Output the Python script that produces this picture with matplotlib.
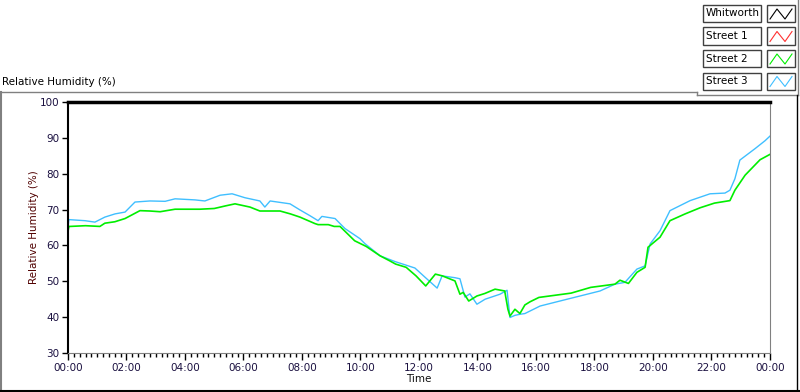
import numpy as np
import matplotlib
matplotlib.use("Agg")
import matplotlib.pyplot as plt
from matplotlib.lines import Line2D
from matplotlib.patches import Rectangle

# hours since midnight, relative humidity (%)
street2_h = [0.00, 0.03, 0.07, 0.6, 1.09, 1.26, 1.6, 1.95, 2.46, 2.8, 3.15, 3.66, 4.51, 5.0,
             5.37, 5.71, 6.22, 6.56, 7.25, 7.6, 7.93, 8.44, 8.55, 8.9, 9.1, 9.3, 9.45, 9.8,
             10.2, 10.67, 11.0, 11.2, 11.56, 11.9, 12.23, 12.56, 12.8, 13.23, 13.4, 13.51,
             13.7, 13.98, 14.25, 14.6, 14.93, 15.04, 15.11, 15.28, 15.45, 15.62, 15.8, 16.1,
             17.2, 17.87, 18.7, 18.87, 19.16, 19.45, 19.73, 19.83, 20.24, 20.58, 21.1, 21.61,
             22.1, 22.63, 22.8, 23.15, 23.66, 24.0]
street2 = [63.9, 65.3, 65.3, 65.5, 65.3, 66.2, 66.6, 67.5, 69.7, 69.6, 69.4, 70.1, 70.1, 70.3,
           71.0, 71.6, 70.7, 69.6, 69.6, 68.8, 67.9, 66.1, 65.8, 65.8, 65.3, 65.3, 64.1, 61.3,
           59.7, 57.1, 55.7, 54.8, 53.9, 51.5, 48.7, 52.0, 51.5, 50.1, 46.4, 46.9, 44.5, 45.9,
           46.6, 47.8, 47.3, 42.2, 40.3, 42.2, 41.0, 43.4, 44.3, 45.5, 46.7, 48.3, 49.2, 50.3,
           49.4, 52.5, 53.9, 59.5, 62.3, 66.9, 68.8, 70.5, 71.8, 72.5, 75.4, 79.6, 83.9, 85.4]

street3_h = [0.00, 0.03, 0.58, 0.92, 1.26, 1.61, 1.95, 2.29, 2.80, 3.32, 3.66, 4.34, 4.68,
             5.20, 5.61, 6.05, 6.56, 6.73, 6.91, 7.59, 7.93, 8.27, 8.55, 8.68, 9.13, 9.47,
             9.98, 10.15, 10.67, 11.18, 11.52, 11.86, 12.21, 12.62, 12.79, 13.23, 13.40,
             13.57, 13.74, 13.98, 14.26, 14.77, 15.01, 15.11, 15.28, 15.45, 15.62, 16.14,
             16.82, 18.19, 18.70, 19.04, 19.45, 19.73, 19.90, 20.24, 20.58, 21.27, 21.95,
             22.46, 22.63, 22.80, 22.97, 23.49, 23.83, 24.00]
street3 = [65.0, 67.2, 66.9, 66.5, 67.9, 68.8, 69.3, 72.1, 72.4, 72.3, 73.0, 72.7, 72.4,
           74.0, 74.4, 73.3, 72.4, 70.7, 72.4, 71.6, 69.9, 68.3, 66.9, 68.1, 67.5, 64.7,
           61.9, 60.5, 57.1, 55.5, 54.6, 53.7, 51.1, 48.1, 51.5, 51.0, 50.7,
           45.6, 46.5, 43.6, 45.0, 46.4, 47.5, 39.9, 40.5, 40.8, 41.0, 43.1,
           44.5, 47.3, 49.2, 49.7, 53.4, 54.3, 60.4, 64.1, 69.7, 72.5, 74.4,
           74.6, 75.4, 78.6, 83.8, 87.0, 89.2, 90.5]

whitworth_h = [0.0, 24.0]
whitworth = [100.0, 100.0]
street1_h = []
street1 = []

legend_names = ["Whitworth", "Street 1", "Street 2", "Street 3"]
legend_colors = ["#000000", "#ff3030", "#00ee00", "#3fbfff"]

plt.rcParams["font.family"] = ["DejaVu Sans"]
plt.rcParams["font.size"] = 7.5

fig = plt.figure(figsize=(8, 3.92), dpi=100)
ax = fig.add_axes([68/800, 1 - 353/392, (770-68)/800, (353-102)/392])

ax.plot(street1_h, street1, color=legend_colors[1], lw=1)
ax.plot(street3_h, street3, color=legend_colors[3], lw=1)
ax.plot(street2_h, street2, color=legend_colors[2], lw=1.2)
ax.plot(whitworth_h, whitworth, color=legend_colors[0], lw=2.5, clip_on=False, zorder=5)

ax.set_xlim(0, 24)
ax.set_ylim(30, 100)
ax.set_yticks(np.arange(30, 101, 10))
ax.set_xticks(np.arange(0, 25, 2))
ax.set_xticklabels(["%02d:00" % (h % 24) for h in range(0, 25, 2)])
ax.set_xticks(np.arange(0, 24.01, 0.2), minor=True)
ax.tick_params(axis="x", which="major", length=5, width=1, colors="black", labelcolor="#1a1040", pad=2)
ax.tick_params(axis="x", which="minor", length=3, width=1, colors="black")
ax.tick_params(axis="y", which="major", length=4, width=1, colors="black", labelcolor="#1a1040", pad=2)
for s in ["bottom", "right"]:
    ax.spines[s].set_color("#808080")
ax.spines["top"].set_visible(False)
ax.spines["left"].set_color("black")
ax.spines["left"].set_linewidth(1.5)

ax.set_xlabel("Time", color="#101010", labelpad=1)
ax.set_ylabel("Relative Humidity (%)", color="#500000", labelpad=1)

fig.text(2/800, 1 - 82/392, "Relative Humidity (%)", va="center", ha="left", color="black")

# panel frame lines
gray = "#808080"
fig.add_artist(Line2D([0, 697/800], [1 - 92/392, 1 - 92/392], color=gray, lw=1))
fig.add_artist(Line2D([697/800, 697/800], [1 - 92/392, 1 - 95/392], color=gray, lw=1))
fig.add_artist(Line2D([697/800, 798/800], [1 - 95/392, 1 - 95/392], color=gray, lw=1))
fig.add_artist(Line2D([798/800, 798/800], [1 - 95/392, 1.0], color=gray, lw=1))
fig.add_artist(Line2D([1/800, 1/800], [0, 1 - 92/392], color=gray, lw=1.5))
fig.add_artist(Line2D([0, 1], [1/392, 1/392], color="black", lw=1.5))
fig.add_artist(Line2D([797/800, 797/800], [0, 1 - 95/392], color="black", lw=1))

# legend
for i, (name, c) in enumerate(zip(legend_names, legend_colors)):
    yt = 5 + i * 22.5
    fig.add_artist(Rectangle((703/800, 1 - (yt + 17)/392), 58/800, 17/392,
                             facecolor="white", edgecolor="#404040", lw=1))
    fig.text(706/800, 1 - (yt + 8.5)/392, name, va="center", ha="left", color="black")
    fig.add_artist(Rectangle((767/800, 1 - (yt + 17)/392), 28/800, 17/392,
                             facecolor="white", edgecolor="#404040", lw=1))
    zx = np.array([770, 777, 785, 792]) / 800
    zy = 1 - (yt + np.array([14, 4, 14, 4])) / 392
    fig.add_artist(Line2D(zx, zy, color=c, lw=0.8))

fig.savefig("out.png", dpi=100)
